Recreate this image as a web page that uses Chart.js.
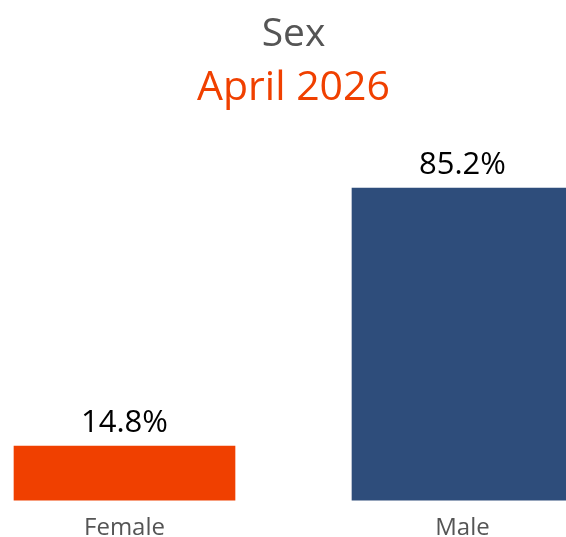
<!DOCTYPE html>
<html>
<head>
<meta charset="utf-8">
<script src="https://cdn.jsdelivr.net/npm/chart.js@4"></script>
<style>
html,body{margin:0;padding:0;background:#fff;}
#wrap{width:566px;height:537px;position:relative;}
</style>
</head>
<body>
<div id="wrap"><canvas id="c"></canvas></div>
<script>
const categories = ["Female", "Male"];
const values = [14.8, 85.2];
const barColors = ["#F04000", "#2E4D7B"];
const titleText = "Sex";
const subtitleText = "April 2026";

const FONT = "'Open Sans', 'Noto Sans', sans-serif";

const valueLabels = {
  id: 'valueLabels',
  afterDatasetsDraw(chart) {
    const ctx = chart.ctx;
    const meta = chart.getDatasetMeta(0);
    ctx.save();
    ctx.font = "31px " + FONT;
    ctx.fillStyle = "#000";
    ctx.textAlign = "center";
    ctx.textBaseline = "alphabetic";
    meta.data.forEach((el, i) => {
      ctx.fillText(values[i].toFixed(1) + "%", el.x, el.y - 14);
    });
    ctx.restore();
  }
};

new Chart(document.getElementById('c'), {
  type: 'bar',
  data: {
    labels: categories,
    datasets: [{
      data: values,
      backgroundColor: barColors,
      barThickness: 221,
      clip: false
    }]
  },
  options: {
    responsive: true,
    maintainAspectRatio: false,
    animation: false,
    layout: { padding: { left: 124.5, right: 103.5, top: 4, bottom: -12 } },
    plugins: {
      legend: { display: false },
      tooltip: { enabled: false },
      title: {
        display: true, text: titleText, color: "#555555",
        font: { family: FONT, size: 39, weight: 'normal' },
        padding: { top: 7, bottom: 0 }
      },
      subtitle: {
        display: true, text: subtitleText, color: "#F04000",
        font: { family: FONT, size: 41, weight: 'normal' },
        padding: { top: 6, bottom: 21 }
      }
    },
    scales: {
      x: {
        offset: false,
        grid: { display: false },
        border: { display: false },
        ticks: { color: "#555555", font: { family: FONT, size: 24 }, padding: 6 }
      },
      y: {
        display: false,
        min: 0, max: 100
      }
    }
  },
  plugins: [valueLabels]
});
</script>
</body>
</html>
